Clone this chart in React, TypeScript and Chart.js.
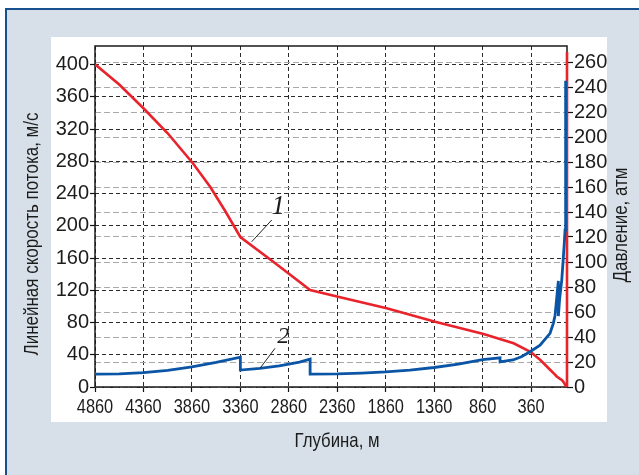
import { useEffect, useRef } from "react";
import { Chart, registerables } from "chart.js";

Chart.register(...registerables);

// ---- data ----
const depthTicks = [4860, 4360, 3860, 3360, 2860, 2360, 1860, 1360, 860, 360];
const velocityTicks = [0, 40, 80, 120, 160, 200, 240, 280, 320, 360, 400];
const pressureTicks = [0, 20, 40, 60, 80, 100, 120, 140, 160, 180, 200, 220, 240, 260];

const depthMin = -11;
const depthMax = 4860;
const velocityMax = 423;
const pressureMax = 272.8;
const pressureAxisTop = 268;

// curve 1: pressure (atm) vs depth
const pressureDepth = [4860, 4610, 4360, 4110, 3850, 3670, 3515, 3360, 3000, 2640, 2330, 1850, 1350, 850, 540, 367, 264, 161, 120, 95, 60, 40, 20, 0];
const pressureValues = [258.2, 242, 223, 203, 179, 160, 140.6, 120, 99, 77.6, 71.8, 63, 52.2, 42.4, 35, 28.2, 21.6, 13.6, 10.5, 8.4, 6.5, 5.5, 3.5, 0.5];

// curve 2: linear flow velocity (m/s) vs depth
const velocityDepth = [4860, 4610, 4360, 4110, 3860, 3610, 3360, 3360, 3160, 2960, 2860, 2750, 2640, 2640, 2360, 2110, 1860, 1610, 1360, 1110, 860, 680, 680, 546, 460, 370, 267, 164, 130, 112, 78, 78, 66, 43, 30, 16, 9, 6, 3, 0];
const velocityValues = [16, 16.4, 17.8, 20.5, 25, 30.5, 37, 21, 23.2, 26.3, 28.5, 31, 34.5, 16, 16.3, 17.3, 18.8, 21, 24.2, 28.5, 34, 36.2, 31.2, 33.5, 37.5, 43.8, 52, 66.6, 79, 89, 131.5, 88, 108, 133, 155, 180, 195, 232, 294, 380];

// curve labels
const label1Pos = [2968, 144];
const leader1 = [[3036, 133.6], [3243, 116.2]];
const label2Pos = [2917, 62.4];
const leader2 = [[3002, 48], [3157, 23.2]];

const xTitle = "Глубина, м";
const yTitle = "Линейная скорость потока, м/с";
const y2Title = "Давление, атм";

const RED = "#e8232b";
const BLUE = "#0a55a5";
const TEXT = "#1c1c1c";
const FAMILY = "'Liberation Sans', Arial, Helvetica, sans-serif";

function condensedText(ctx: any, text: string, cx: number, cy: number, rot: number, len: number) {
  ctx.save();
  ctx.translate(cx, cy);
  if (rot) ctx.rotate(rot);
  const w = ctx.measureText(text).width;
  ctx.scale(Math.min(1, len / w), 1);
  ctx.fillText(text, 0, 0);
  ctx.restore();
}

const decorPlugin = {
  id: "decor",
  beforeDatasetsDraw(chart: any) {
    const { ctx, chartArea: a, scales } = chart;
    ctx.save();
    ctx.strokeStyle = "#1a1a1a";
    ctx.lineWidth = 1.5;
    ctx.setLineDash([]);
    ctx.strokeRect(a.left, a.top, a.right - a.left, a.bottom - a.top);
    ctx.strokeStyle = RED;
    ctx.lineWidth = 2.6;
    ctx.beginPath();
    ctx.moveTo(a.right, scales.y2.getPixelForValue(pressureAxisTop));
    ctx.lineTo(a.right, scales.y2.getPixelForValue(0));
    ctx.stroke();
    ctx.restore();
  },
  afterDatasetsDraw(chart: any) {
    const { ctx, chartArea: a, scales } = chart;
    const x = scales.x, y = scales.y, y2 = scales.y2;
    ctx.save();
    // leaders
    ctx.strokeStyle = "#222";
    ctx.lineWidth = 1;
    ctx.beginPath();
    ctx.moveTo(x.getPixelForValue(leader1[0][0]), y2.getPixelForValue(leader1[0][1]));
    ctx.lineTo(x.getPixelForValue(leader1[1][0]), y2.getPixelForValue(leader1[1][1]));
    ctx.moveTo(x.getPixelForValue(leader2[0][0]), y.getPixelForValue(leader2[0][1]));
    ctx.lineTo(x.getPixelForValue(leader2[1][0]), y.getPixelForValue(leader2[1][1]));
    ctx.stroke();
    ctx.fillStyle = TEXT;
    ctx.textAlign = "center";
    ctx.textBaseline = "middle";
    ctx.font = "italic 27px 'Liberation Serif', 'DejaVu Serif', serif";
    ctx.fillText("1", x.getPixelForValue(label1Pos[0]), y2.getPixelForValue(label1Pos[1]));
    ctx.font = "italic 24px 'Liberation Serif', 'DejaVu Serif', serif";
    ctx.fillText("2", x.getPixelForValue(label2Pos[0]), y.getPixelForValue(label2Pos[1]));

    // x tick labels (condensed)
    ctx.font = `21px ${FAMILY}`;
    for (const t of x.ticks) {
      ctx.save();
      ctx.translate(x.getPixelForValue(t.value), a.bottom + 20);
      ctx.scale(0.78, 1);
      ctx.fillText(String(t.value), 0, 0);
      ctx.restore();
    }

    // axis titles (condensed)
    ctx.font = `21px ${FAMILY}`;
    condensedText(ctx, xTitle, 337, a.bottom + 54, 0, 85);
    condensedText(ctx, yTitle, a.left - 63, 234, -Math.PI / 2, 243);
    condensedText(ctx, y2Title, a.right + 54, 225, -Math.PI / 2, 115);
    ctx.restore();
  },
};

export default function App() {
  const ref = useRef<HTMLCanvasElement>(null);
  useEffect(() => {
    const tickFont = { family: FAMILY, size: 20, lineHeight: 1.2 };
    const chart = new Chart(ref.current!, {
      type: "line",
      data: {
        datasets: [
          {
            label: "2",
            data: velocityDepth.map((d, i) => ({ x: d, y: velocityValues[i] })),
            yAxisID: "y",
            borderColor: BLUE,
            borderWidth: 2.8,
            pointRadius: 0,
            tension: 0,
            fill: false,
          },
          {
            label: "1",
            data: pressureDepth.map((d, i) => ({ x: d, y: pressureValues[i] })),
            yAxisID: "y2",
            borderColor: RED,
            borderWidth: 2.6,
            pointRadius: 0,
            tension: 0,
            fill: false,
          },
        ],
      },
      options: {
        responsive: false,
        animation: false,
        devicePixelRatio: 1,
        layout: { padding: { left: 0, right: 0, top: 46, bottom: 0 } },
        plugins: { legend: { display: false }, tooltip: { enabled: false } },
        scales: {
          x: {
            type: "linear",
            reverse: true,
            min: depthMin,
            max: depthMax,
            afterBuildTicks: (s: any) => {
              s.ticks = depthTicks.map((v) => ({ value: v }));
            },
            afterFit: (s: any) => {
              s.height = 88;
            },
            grid: { color: "#2a2a2a", lineWidth: 1, tickLength: 5, tickColor: "#111", tickWidth: 1.2 },
            border: { display: false, dash: [4, 3] },
            ticks: { display: false, autoSkip: false },
          },
          y: {
            position: "left",
            min: 0,
            max: velocityMax,
            afterBuildTicks: (s: any) => {
              s.ticks = velocityTicks.map((v) => ({ value: v }));
            },
            afterFit: (s: any) => {
              s.width = 95;
            },
            grid: { color: "#2a2a2a", lineWidth: 1, tickLength: 5, tickColor: "#111", tickWidth: 1.2 },
            border: { display: false, dash: [4, 3] },
            ticks: { font: tickFont, color: TEXT, padding: 1, autoSkip: false, callback: (v: any) => String(v) },
          },
          y2: {
            position: "right",
            min: 0,
            max: pressureMax,
            afterBuildTicks: (s: any) => {
              s.ticks = pressureTicks.map((v) => ({ value: v }));
            },
            afterFit: (s: any) => {
              s.width = 72;
            },
            grid: { color: "#a9a9a9", lineWidth: 1, tickLength: 6, tickColor: "#111", tickWidth: 1.2, drawOnChartArea: true },
            border: { display: false, dash: [6, 3] },
            ticks: { font: tickFont, color: TEXT, padding: 1, autoSkip: false, callback: (v: any) => String(v) },
          },
        },
      },
      plugins: [decorPlugin],
    } as any);
    return () => chart.destroy();
  }, []);

  return (
    <div style={{ position: "absolute", left: 0, top: 0, width: 639, height: 475, background: "#fff", overflow: "hidden" }}>
      <div
        style={{
          position: "absolute",
          left: 5,
          top: 8,
          right: 0,
          bottom: 0,
          background: "#d7e0e8",
          borderLeft: "2px solid #17508f",
          borderTop: "2px solid #17508f",
        }}
      />
      <div style={{ position: "absolute", left: 51, top: 37, width: 556, height: 385, background: "#fff" }} />
      <canvas ref={ref} width={639} height={475} style={{ position: "absolute", left: 0, top: 0, width: 639, height: 475 }} />
    </div>
  );
}
